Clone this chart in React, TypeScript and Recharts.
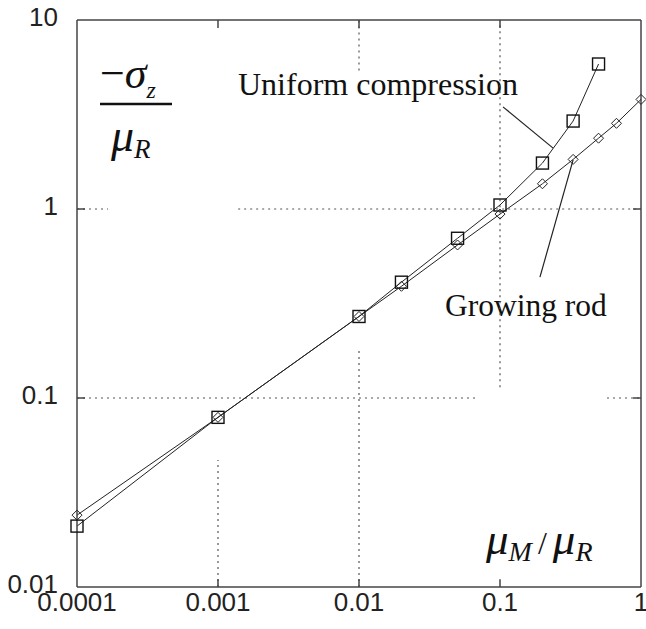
import { LineChart, Line, XAxis, YAxis, ReferenceLine, Customized } from "recharts";

const xTicks = [0.0001, 0.001, 0.01, 0.1, 1];
const yTicks = [0.01, 0.1, 1, 10];

const uniformX = [0.0001, 0.001, 0.01, 0.02, 0.05, 0.1, 0.2, 0.33, 0.5];
const uniformY = [0.021, 0.079, 0.27, 0.41, 0.7, 1.05, 1.75, 2.92, 5.85];

const rodX = [0.0001, 0.001, 0.01, 0.02, 0.05, 0.1, 0.2, 0.33, 0.5, 0.67, 1];
const rodY = [0.024, 0.079, 0.27, 0.39, 0.645, 0.94, 1.36, 1.83, 2.37, 2.84, 3.8];

const uniformData = uniformX.map((x, i) => ({ x, y: uniformY[i] }));
const rodData = rodX.map((x, i) => ({ x, y: rodY[i] }));

// dotted grid pieces (gaps where the labels sit)
const gridSegs = [
  [[0.0001, 1], [0.000166, 1]],
  [[0.00139, 1], [1, 1]],
  [[0.0001, 0.1], [0.0687, 0.1]],
  [[0.574, 0.1], [1, 0.1]],
  [[0.001, 0.01], [0.001, 0.047]],
  [[0.01, 0.01], [0.01, 0.186]],
  [[0.01, 5.4], [0.01, 10]],
  [[0.1, 0.114], [0.1, 10]],
];

// inward tick marks on the frame
const tickSegs = [
  ...[0.001, 0.01, 0.1].map((x) => [[x, 0.01], [x, 0.011]]),
  ...[0.001, 0.01, 0.1].map((x) => [[x, 10], [x, 9.07]]),
  ...[0.1, 1].map((y) => [[0.0001, y], [0.000114, y]]),
  ...[0.1, 1].map((y) => [[1, y], [0.877, y]]),
];

const leaders = [
  [[0.105, 3.47], [0.238, 2.1]],
  [[0.192, 0.436], [0.33, 1.82]],
];

const seg = (s: any) => [{ x: s[0][0], y: s[0][1] }, { x: s[1][0], y: s[1][1] }];

const SquareDot = (props: any) => {
  const { cx, cy, index } = props;
  return <rect key={index} x={cx - 6} y={cy - 6} width={12} height={12} fill="none" stroke="#111" strokeWidth={1.4} />;
};

const DiamondDot = (props: any) => {
  const { cx, cy, index } = props;
  return (
    <path
      key={index}
      d={`M${cx},${cy - 5}L${cx + 5},${cy}L${cx},${cy + 5}L${cx - 5},${cy}Z`}
      fill="none"
      stroke="#222"
      strokeWidth={1}
    />
  );
};

const serif = "'Liberation Serif', 'Times New Roman', serif";

const Annotations = () => (
  <g fontFamily={serif} fill="#111">
    <text x={238} y={95} fontSize={32}>Uniform compression</text>
    <text x={445} y={316} fontSize={31.5}>Growing rod</text>
    <text x={100} y={88} fontSize={44}>
      <tspan>−</tspan>
      <tspan fontStyle="italic">σ</tspan>
      <tspan fontStyle="italic" fontSize={24} dy={10}>z</tspan>
    </text>
    <line x1={100} x2={172} y1={104} y2={104} stroke="#111" strokeWidth={2.5} />
    <text x={111} y={151} fontSize={46} fontStyle="italic">
      <tspan>μ</tspan>
      <tspan fontSize={27} dy={7}>R</tspan>
    </text>
    <text x={486} y={554} fontSize={45} fontStyle="italic">
      <tspan>μ</tspan>
      <tspan fontSize={28} dy={7}>M</tspan>
      <tspan fontSize={32} dy={-7} dx={6} fontStyle="normal">/</tspan>
      <tspan dx={6}>μ</tspan>
      <tspan fontSize={28} dy={7}>R</tspan>
    </text>
  </g>
);

const tickStyle = { fontFamily: "'Liberation Sans', Arial, sans-serif", fontSize: 26, fill: "#222" };

export default function App() {
  return (
    <div style={{ position: "absolute", left: 0, top: 0, background: "#fff" }}>
      <LineChart width={646} height={629} margin={{ top: 20, right: 5, left: 0, bottom: 0 }}>
        <XAxis
          dataKey="x"
          type="number"
          scale="log"
          domain={[0.0001, 1]}
          ticks={xTicks}
          interval={0}
          height={42}
          tickLine={false}
          tickSize={4}
          tickMargin={2}
          axisLine={{ stroke: "#444", strokeWidth: 1.5 }}
          tick={tickStyle}
        />
        <YAxis
          dataKey="y"
          type="number"
          scale="log"
          domain={[0.01, 10]}
          ticks={yTicks}
          interval={0}
          width={77}
          tickLine={false}
          tickSize={10}
          tickMargin={9}
          axisLine={{ stroke: "#444", strokeWidth: 1.5 }}
          tick={{ ...tickStyle, dy: -3 }}
        />
        <ReferenceLine y={10} stroke="#444" strokeWidth={1.5} />
        <ReferenceLine x={1} stroke="#444" strokeWidth={1.5} />
        {gridSegs.map((s, i) => (
          <ReferenceLine key={"g" + i} segment={seg(s)} stroke="#555" strokeWidth={1.2} strokeDasharray="2 4" />
        ))}
        {tickSegs.map((s, i) => (
          <ReferenceLine key={"t" + i} segment={seg(s)} stroke="#444" strokeWidth={1.5} />
        ))}
        {leaders.map((s, i) => (
          <ReferenceLine key={"l" + i} segment={seg(s)} stroke="#222" strokeWidth={1.2} />
        ))}
        <Line
          data={uniformData}
          dataKey="y"
          stroke="#222"
          strokeWidth={1}
          dot={SquareDot}
          isAnimationActive={false}
        />
        <Line
          data={rodData}
          dataKey="y"
          stroke="#222"
          strokeWidth={1}
          dot={DiamondDot}
          isAnimationActive={false}
        />
        <Customized component={Annotations} />
      </LineChart>
    </div>
  );
}
